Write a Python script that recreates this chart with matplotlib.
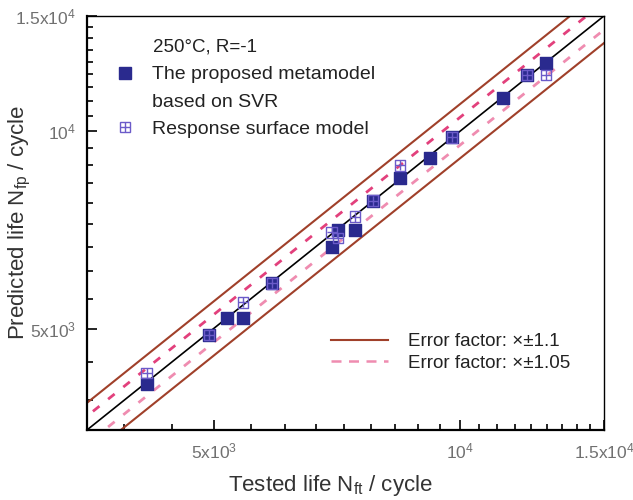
import numpy as np
import matplotlib
matplotlib.use("Agg")
import matplotlib.pyplot as plt
from matplotlib.ticker import FixedLocator, FuncFormatter, NullFormatter
from matplotlib.lines import Line2D

plt.rcParams['font.family'] = ['Liberation Sans', 'DejaVu Sans']
plt.rcParams['mathtext.fontset'] = 'custom'
plt.rcParams['mathtext.rm'] = 'Liberation Sans'
plt.rcParams['mathtext.it'] = 'Liberation Sans:italic'

# tested life vs predicted life (cycles)
tested_svr = [4140, 4930, 5190, 5430, 5890, 6970, 7090, 7440, 7830, 8450, 9190, 9780, 11290, 12080, 12750]
pred_svr = [4120, 4890, 5180, 5190, 5860, 6670, 7080, 7080, 7840, 8500, 9120, 9790, 11230, 12180, 12700]

tested_rs = [4140, 4930, 5430, 5890, 6970, 7090, 7440, 7830, 8450, 9780, 12080, 12750]
pred_rs = [4280, 4890, 5480, 5860, 7010, 6880, 7410, 7840, 8870, 9790, 12180, 12180]

factors = [1.1, 1.05]
lims = [3500, 15000]
major_ticks = [5000, 10000, 15000]
tick_labels = {5000: '5x10$^3$', 10000: '10$^4$', 15000: '1.5x10$^4$'}

navy = '#2a2a8e'
rs_col = '#6b5bc9'
brown = '#a0402a'
pink_dark = '#e2407c'
pink_light = '#ef8cb0'

fig = plt.figure(figsize=(6.33, 5), dpi=100)
ax = fig.add_axes([0.1374, 0.14, 0.8166, 0.828])

ref = np.array([3000, 17000])
ax.plot(ref, ref, color='black', lw=1.2, zorder=2)
ax.plot(ref, ref * factors[0], color=brown, lw=1.5, zorder=2)
ax.plot(ref, ref / factors[0], color=brown, lw=1.5, zorder=2)
ax.plot(ref, ref * factors[1], color=pink_dark, lw=2.0, dashes=(3, 4), zorder=2)
ax.plot(ref, ref / factors[1], color=pink_light, lw=2.0, dashes=(3, 4), zorder=2)

ax.scatter(tested_svr, pred_svr, marker='s', s=65, color=navy, zorder=3)
ax.scatter(tested_rs, pred_rs, marker='s', s=55, facecolor='none', edgecolor=rs_col, lw=1.0, zorder=4)
ax.scatter(tested_rs, pred_rs, marker='+', s=55, color=rs_col, lw=1.0, zorder=4)

ax.set_xscale('log')
ax.set_yscale('log')
ax.set_xlim(lims)
ax.set_ylim(lims)

minor = []
for a, b in zip([0] + major_ticks[:-1], major_ticks):
    minor += list(np.linspace(a, b, 10)[1:-1])
for axis in (ax.xaxis, ax.yaxis):
    axis.set_major_locator(FixedLocator(major_ticks))
    axis.set_minor_locator(FixedLocator(minor))
    axis.set_major_formatter(FuncFormatter(lambda v, p: tick_labels.get(int(round(v)), '')))
    axis.set_minor_formatter(NullFormatter())

ax.tick_params(which='both', direction='in', top=False, right=False, width=1.2,
               labelsize=12.5, labelcolor='#707070')
ax.tick_params(which='major', length=7, pad=8)
ax.tick_params(which='minor', length=4)
for s in ['left', 'bottom']:
    ax.spines[s].set_linewidth(1.6)
for s in ['top', 'right']:
    ax.spines[s].set_linewidth(1.0)

ax.set_xlabel('Tested life N$_{\\rm ft}$ / cycle', fontsize=16, color='#333333')
ax.set_ylabel('Predicted life N$_{\\rm fp}$ / cycle', fontsize=16, color='#333333')
ax.xaxis.set_label_coords(0.47, -0.105)
ax.yaxis.set_label_coords(-0.104, 0.5)

# upper-left legend
ax.text(0.128, 0.925, '250°C, R=-1', transform=ax.transAxes, fontsize=13.5, color='#222222', va='center')
h1 = Line2D([], [], ls='none', marker='s', ms=8, color=navy)
h_blank = Line2D([], [], ls='none', marker='none')
h2 = (Line2D([], [], ls='none', marker='s', ms=7, mfc='none', mec=rs_col, mew=1.0),
      Line2D([], [], ls='none', marker='+', ms=7, color=rs_col, mew=1.0))
leg1 = ax.legend([h1, h_blank, h2], ['The proposed metamodel', 'based on SVR', 'Response surface model'],
                 loc='upper left', bbox_to_anchor=(0.02, 0.922), frameon=False, fontsize=14,
                 handlelength=1.0, handletextpad=0.9, labelspacing=0.5, labelcolor='#222222')
ax.add_artist(leg1)

h3 = Line2D([], [], color=brown, lw=1.5)
h4 = Line2D([], [], color=pink_light, lw=1.8, dashes=(4, 3))
ax.legend([h3, h4], ['Error factor: ×±1.1', 'Error factor: ×±1.05'],
          loc='upper left', bbox_to_anchor=(0.44, 0.275), frameon=False, fontsize=13.5,
          handlelength=3.0, handletextpad=1.1, labelspacing=0.25, labelcolor='#222222')

fig.savefig('out.png', dpi=100)
